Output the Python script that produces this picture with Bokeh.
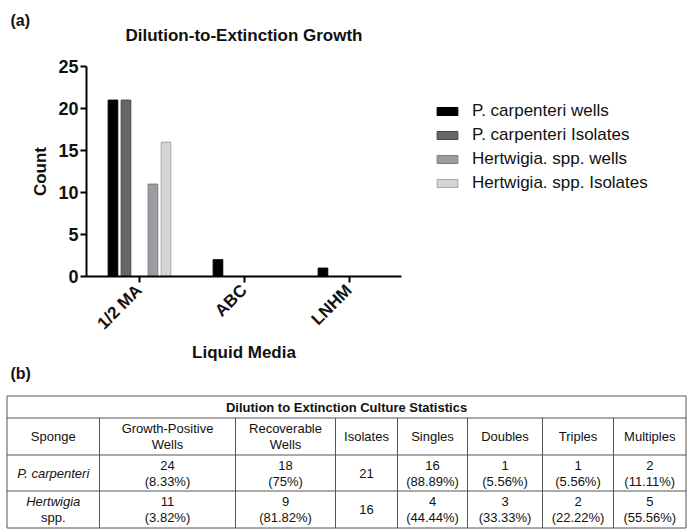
from math import pi
from bokeh.plotting import figure
from bokeh.models import (FactorRange, Range1d, Legend, LegendItem,
                          ColumnDataSource, FixedTicker)
from bokeh.transform import dodge
from bokeh.embed import file_html
from bokeh.resources import INLINE
from bokeh.core.properties import value

# ---------------- data ----------------
media = ["1/2 MA", "ABC", "LNHM"]
pc_wells = [21, 2, 1]
pc_isolates = [21, 0, 0]
hs_wells = [11, 0, 0]
hs_isolates = [16, 0, 0]
series_labels = ["P. carpenteri wells", "P. carpenteri Isolates",
                 "Hertwigia. spp. wells", "Hertwigia. spp. Isolates"]
y_ticks = [0, 5, 10, 15, 20, 25]

chart_title = "Dilution-to-Extinction Growth"
x_label = "Liquid Media"
y_label = "Count"

table_title = "Dilution to Extinction Culture Statistics"
table_headers = ["Sponge", "Growth-Positive\nWells", "Recoverable\nWells", "Isolates",
                 "Singles", "Doubles", "Triples", "Multiples"]
sponge_italic = ["P. carpenteri", "Hertwigia"]
sponge_plain = ["", "spp."]
pc_counts = [24, 18, 21, 16, 1, 1, 2]
pc_pcts = ["8.33%", "75%", "", "88.89%", "5.56%", "5.56%", "11.11%"]
hs_counts = [11, 9, 16, 4, 3, 2, 5]
hs_pcts = ["3.82%", "81.82%", "", "44.44%", "33.33%", "22.22%", "55.56%"]

FONT = "Liberation Sans"
TXT = "#111111"


def blank_fig(w, h):
    f = figure(width=w, height=h, x_range=Range1d(0, w), y_range=Range1d(h, 0),
               x_axis_type=None, y_axis_type=None, min_border=0,
               output_backend="svg", toolbar_location=None)
    f.xgrid.visible = False
    f.ygrid.visible = False
    f.outline_line_color = None
    return f


# ---------------- heading of panel (a) ----------------
hd = blank_fig(688, 50)
hd.text(x=[10], y=[20], text=["(a)"], text_font=value(FONT), text_font_size=value("16px"),
        text_font_style=value("bold"), text_color=TXT, text_align="left", text_baseline="middle")
hd.text(x=[243.5], y=[35], text=[chart_title], text_font=value(FONT),
        text_font_size=value("17px"), text_font_style=value("bold"), text_color=TXT,
        text_align="center", text_baseline="middle")

# ---------------- chart (a) ----------------
p = figure(x_range=FactorRange(factors=media, range_padding=0), y_range=Range1d(0, 25),
           frame_width=315, frame_height=210,
           min_border_left=86, min_border_top=16, min_border_bottom=86, min_border_right=262,
           output_backend="svg", toolbar_location=None)

src = ColumnDataSource(dict(media=media, pcw=pc_wells, pci=pc_isolates,
                            hsw=hs_wells, hsi=hs_isolates))
offsets = [-0.248, -0.124, 0.133, 0.257]
fills = ["#000000", "#666666", "#9d9da1", "#d4d4d4"]
lines = ["#000000", "#4a4a4a", "#7c7c80", "#a8a8a8"]
renderers = []
for col, off, fc, lc in zip(["pcw", "pci", "hsw", "hsi"], offsets, fills, lines):
    r = p.vbar(x=dodge("media", off, range=p.x_range), top=col, bottom=0, width=0.092,
               source=src, fill_color=fc, line_color=lc, line_width=1)
    renderers.append(r)

legend = Legend(items=[LegendItem(label=l, renderers=[r]) for l, r in zip(series_labels, renderers)],
                location=(33, 81), orientation="vertical", margin=0, padding=0,
                spacing=0, glyph_width=26, glyph_height=10, label_height=24,
                label_standoff=12, label_text_font=FONT, label_text_font_size="17px",
                label_text_color=TXT, border_line_color=None, background_fill_alpha=0)
p.add_layout(legend, "right")

for ax in (p.xaxis[0], p.yaxis[0]):
    ax.axis_line_width = 2
    ax.axis_line_color = "#000000"
    ax.major_tick_line_width = 2
    ax.major_tick_line_color = "#000000"
    ax.major_tick_out = 6
    ax.major_tick_in = 0
    ax.minor_tick_out = 0
    ax.minor_tick_in = 0
    ax.major_label_text_font = FONT
    ax.major_label_text_font_style = "bold"
    ax.major_label_text_font_size = "18px"
    ax.major_label_text_color = TXT
    ax.axis_label_text_font = FONT
    ax.axis_label_text_font_style = "bold"
    ax.axis_label_text_font_size = "17px"
    ax.axis_label_text_color = TXT

p.yaxis.ticker = FixedTicker(ticks=y_ticks)
p.yaxis.major_label_standoff = 2
p.yaxis.axis_label = y_label
p.yaxis.axis_label_standoff = 5
p.xaxis.major_label_orientation = pi / 4
p.xaxis.major_label_text_font_size = "17px"
p.xaxis.major_label_standoff = 5
p.xaxis.axis_label = x_label
p.xaxis.axis_label_standoff = 0
p.xgrid.visible = False
p.ygrid.visible = False
p.outline_line_color = None

# ---------------- table (b) ----------------
t = blank_fig(688, 165)

xb = [6.5, 99, 235, 335, 397, 467, 542, 613, 685.5]
yb = [31.5, 53.5, 90.5, 126.5, 163.5]
BC = "#555555"
t.segment(x0=[xb[0]] * len(yb), x1=[xb[-1]] * len(yb), y0=yb, y1=yb, line_color=BC, line_width=1)
t.segment(x0=[xb[0], xb[-1]], x1=[xb[0], xb[-1]], y0=[yb[0]] * 2, y1=[yb[-1]] * 2,
          line_color=BC, line_width=1)
inner = xb[1:-1]
t.segment(x0=inner, x1=inner, y0=[yb[1]] * len(inner), y1=[yb[-1]] * len(inner),
          line_color=BC, line_width=1)

cx = [(a + b) / 2 for a, b in zip(xb[:-1], xb[1:])]
ry = [(a + b) / 2 for a, b in zip(yb[:-1], yb[1:])]
LS = 8  # half line spacing


def cell_text(xs, ys, texts, style="normal", size="13px"):
    t.text(x=xs, y=ys, text=texts, text_font=value(FONT), text_font_size=value(size),
           text_font_style=value(style), text_color=TXT, text_align="center",
           text_baseline="middle")


t.text(x=[10], y=[9], text=["(b)"], text_font=value(FONT), text_font_size=value("16px"),
       text_font_style=value("bold"), text_color=TXT, text_align="left", text_baseline="middle")
cell_text([(xb[0] + xb[-1]) / 2], [ry[0]], [table_title], style="bold")

hx, hy, ht = [], [], []
for x, h in zip(cx, table_headers):
    parts = h.split("\n")
    for i, part in enumerate(parts):
        hx.append(x)
        hy.append(ry[1] + (i - (len(parts) - 1) / 2) * 2 * LS)
        ht.append(part)
cell_text(hx, hy, ht)

cell_text([cx[0]], [ry[2]], [sponge_italic[0]], style="italic")
cell_text([cx[0]], [ry[3] - LS], [sponge_italic[1]], style="italic")
cell_text([cx[0]], [ry[3] + LS], [sponge_plain[1]])

for row_y, counts, pcts in ((ry[2], pc_counts, pc_pcts), (ry[3], hs_counts, hs_pcts)):
    vx, vy, vt = [], [], []
    for x, c, pc in zip(cx[1:], counts, pcts):
        if pc:
            vx += [x, x]
            vy += [row_y - LS, row_y + LS]
            vt += [str(c), "(" + pc + ")"]
        else:
            vx.append(x)
            vy.append(row_y)
            vt.append(str(c))
    cell_text(vx, vy, vt)

open("out.html", "w").write(file_html([hd, p, t], INLINE))
